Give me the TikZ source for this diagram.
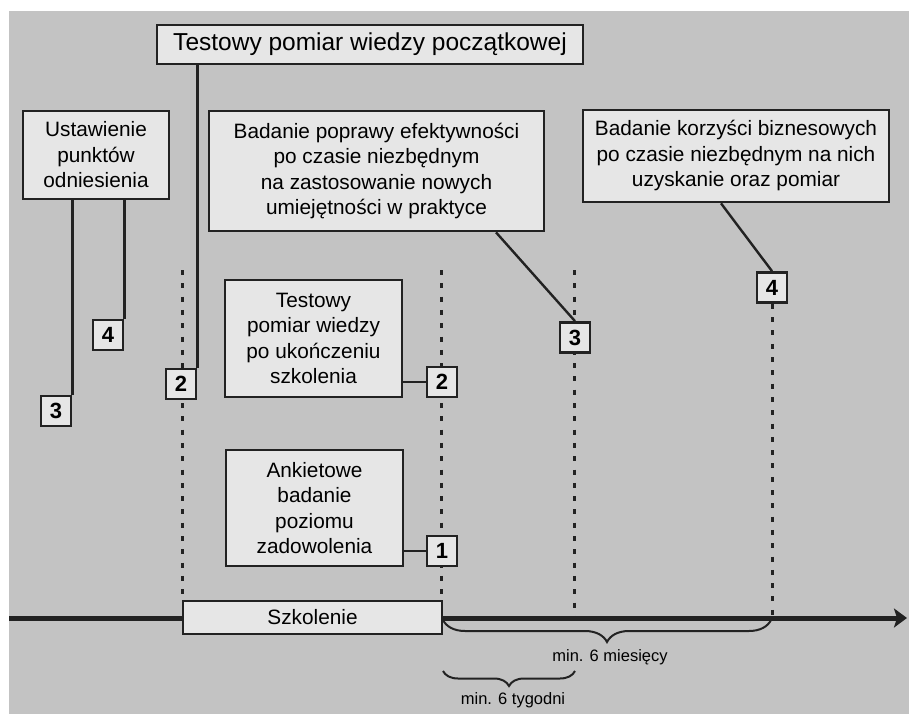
\documentclass[tikz,border=0pt]{standalone}
\usepackage{fontspec}
\setmainfont{Liberation Sans}
\usetikzlibrary{arrows.meta,decorations.pathreplacing,calc}
\definecolor{bggray}{HTML}{C3C3C3}
\definecolor{boxfill}{HTML}{E6E6E6}
\definecolor{inkline}{HTML}{222222}
\tikzset{
    info-box/.style = {draw=inkline, fill=boxfill, line width=2.7pt, rectangle, inner sep=0pt, align=center,
        font=\fontsize{20.8}{25.5}\selectfont},
    title-box/.style = {info-box, font=\fontsize{24.5}{28}\selectfont},
    num-box/.style = {draw=inkline, fill=boxfill, line width=2.7pt, rectangle, inner sep=0pt,
        minimum width=30pt, minimum height=30pt, font=\fontsize{22}{25}\selectfont\bfseries},
    link-line/.style = {draw=inkline, line width=2.4pt},
    dot-line/.style = {draw=inkline, line width=3pt, dash pattern=on 5pt off 8.3pt},
    span-brace/.style = {draw=inkline, line width=2pt, decorate, decoration={brace, mirror, amplitude=#1}},
    span-label/.style = {font=\fontsize{16.5}{19}\selectfont},
}

\begin{document}
\begin{tikzpicture}[x=1pt, y=-1pt]
\useasboundingbox (0,0) rectangle (909,714);
\fill[bggray] (9,11) rectangle (909,714);

% dotted time marks
\coordinate (start-top) at (182,270);
\coordinate (start-bot) at (182,601);
\coordinate (end-top) at (441,270);
\coordinate (end-bot) at (441,601);
\coordinate (weeks-top) at (574,270);
\coordinate (weeks-bot) at (574,617);
\coordinate (months-bot) at (772,617);
\draw[dot-line] (start-top) -- (start-bot);
\draw[dot-line] (end-top) -- (end-bot);
\draw[dot-line] (weeks-top) -- (weeks-bot);

% time axis
\coordinate (axis-start) at (9,618);
\coordinate (axis-end) at (907,618);
\draw[draw=inkline, line width=5pt, -{Stealth[length=13pt, width=19pt, inset=3pt]}] (axis-start) -- (axis-end);

\node[info-box, minimum width=259pt, minimum height=33pt] (training) at (312.5,617.5) {Szkolenie};

% boxes
\node[title-box, minimum width=426pt, minimum height=39pt] (pretest) at (370,44.5) {Testowy pomiar wiedzy początkowej};
\node[info-box, minimum width=146pt, minimum height=88pt] (baseline) at (96,155) {Ustawienie\\punktów\\odniesienia};
\node[info-box, minimum width=335pt, minimum height=120pt] (efficiency) at (376.5,171) {Badanie poprawy efektywności\\po czasie niezbędnym\\na zastosowanie nowych\\umiejętności w praktyce};
\node[info-box, minimum width=306pt, minimum height=92pt] (business) at (736,156) {Badanie korzyści biznesowych\\po czasie niezbędnym na nich\\uzyskanie oraz pomiar};
\node[info-box, minimum width=177pt, minimum height=117pt] (posttest) at (313.5,338.5) {Testowy\\pomiar wiedzy\\po ukończeniu\\szkolenia};
\node[info-box, minimum width=177pt, minimum height=116pt] (survey) at (314.5,508) {Ankietowe\\badanie\\poziomu\\zadowolenia};

% numbered markers
\node[num-box] (base-3) at (56,411) {3};
\node[num-box] (base-4) at (108,335) {4};
\node[num-box] (pre-2) at (181,384) {2};
\node[num-box] (post-2) at (442,382) {2};
\node[num-box] (post-1) at (442,551) {1};
\node[num-box] (eff-3) at (575,337.5) {3};
\node[num-box] (bus-4) at (772,287.5) {4};

\draw[dot-line] (bus-4.south) -- (months-bot);

% connectors
\draw[link-line] (base-3.north east |- baseline.south) -- (base-3.north east);
\draw[link-line] (base-4.north east |- baseline.south) -- (base-4.north east);
\draw[link-line] (pre-2.north east |- pretest.south) -- (pre-2.north east);
\draw[link-line] (posttest.east |- post-2) -- (post-2.west);
\draw[link-line] (survey.east |- post-1) -- (post-1.west);
\draw[link-line] ([xshift=119.5pt]efficiency.south) -- (eff-3.north);
\draw[link-line] ([xshift=-15pt]business.south) -- (bus-4.north);

% spans
\coordinate (months-a) at (443,620);
\coordinate (months-b) at (771,620);
\coordinate (weeks-a) at (443,671);
\coordinate (weeks-b) at (575,671);
\draw[span-brace=22pt] (months-a) -- (months-b);
\draw[span-brace=15pt] (weeks-a) -- (weeks-b);
\node[span-label] (months-lbl) at (610,657) {min. 6 miesięcy};
\node[span-label] (weeks-lbl) at (513,700) {min. 6 tygodni};
\end{tikzpicture}
\end{document}
